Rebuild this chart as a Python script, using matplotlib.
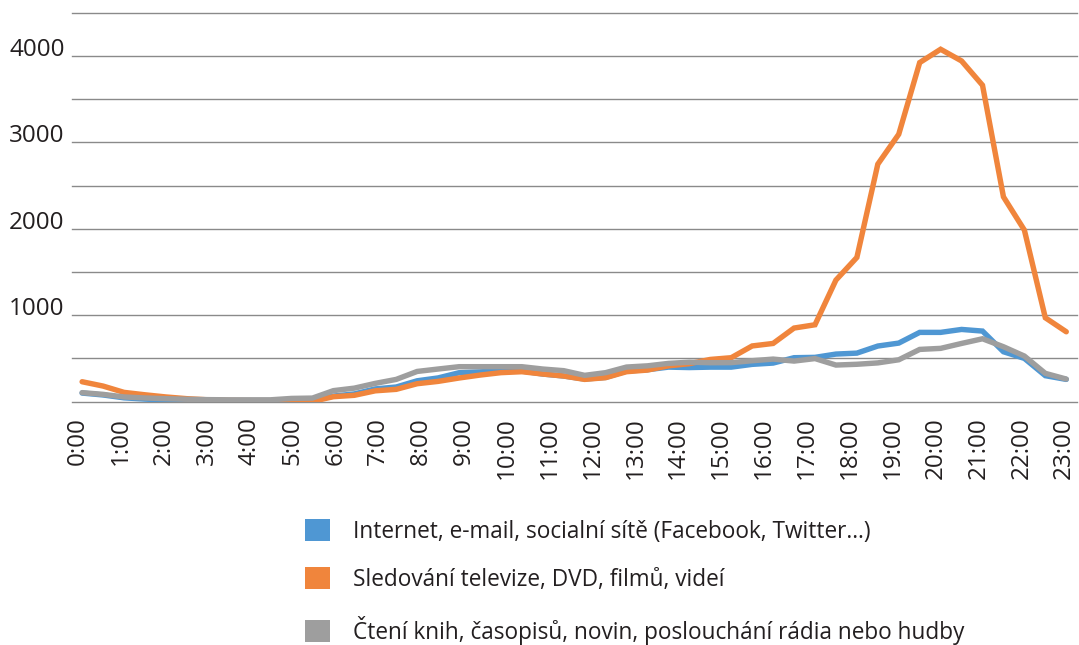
import numpy as np
import matplotlib.pyplot as plt
from matplotlib.patches import Patch

plt.rcParams['font.family'] = ['Open Sans', 'DejaVu Sans']
plt.rcParams['font.size'] = 17.4
TXT = '#231f20'

# pulhodinove intervaly 0:00 .. 23:30
times = [f"{h}:{m:02d}" for h in range(24) for m in (0, 30)]
hour_labels = [f"{h}:00" for h in range(24)]

internet = [100, 78, 45, 30, 20, 12, 8, 5, 5, 5, 10, 18,
            65, 90, 148, 170, 242, 275, 335, 345, 359, 355, 320, 297,
            262, 281, 355, 370, 400, 395, 400, 400, 432, 447, 509, 513,
            551, 562, 644, 678, 802, 802, 836, 817, 578, 501, 301, 258]
tv = [231, 181, 108, 80, 55, 35, 22, 15, 12, 10, 10, 3,
      58, 74, 126, 143, 208, 235, 274, 308, 336, 347, 320, 297,
      258, 278, 347, 366, 415, 440, 489, 509, 645, 674, 852, 890,
      1407, 1669, 2748, 3094, 3923, 4077, 3942, 3661, 2370, 1985, 971, 809]
reading = [105, 85, 55, 43, 35, 28, 24, 22, 22, 22, 38, 42,
           128, 157, 212, 258, 350, 378, 405, 405, 405, 405, 378, 359,
           305, 336, 401, 415, 443, 457, 451, 452, 474, 493, 470, 499,
           424, 433, 449, 485, 605, 617, 674, 728, 636, 528, 328, 262]

names = ["Internet, e-mail, socialní sítě (Facebook, Twitter…)",
         "Sledování televize, DVD, filmů, videí",
         "Čtení knih, časopisů, novin, poslouchání rádia nebo hudby"]
colors = ['#4f97d3', '#f0853c', '#9e9e9e']

fig = plt.figure(figsize=(10.79, 6.45), dpi=100)
ax = fig.add_axes([0.0664, 0.3772, 0.9315, 0.6031])

x = np.arange(len(times))
for vals, c in zip([internet, tv, reading], colors):
    ax.plot(x, vals, color=c, lw=3.9, solid_capstyle='round',
            solid_joinstyle='miter')

ax.set_xlim(-0.5, len(times) - 0.5)
ax.set_ylim(0, 4500)

ax.set_yticks(np.arange(0, 4501, 500))
ax.set_yticklabels([str(v) if v % 1000 == 0 and v > 0 else ''
                    for v in range(0, 4501, 500)])
for lab in ax.get_yticklabels():
    lab.set_va('baseline')
ax.grid(axis='y', color='#8a8a8a', lw=1.0)
for gl in ax.get_ygridlines():
    gl.set_clip_on(False)
ax.set_axisbelow(True)

ax.set_xticks(np.linspace(-0.2, 46.9, len(hour_labels)))
ax.set_xticklabels(hour_labels, rotation=90, va='top', ha='center')
ax.tick_params(axis='x', length=0, pad=11, colors=TXT)
ax.tick_params(axis='y', length=0, pad=5, colors=TXT)
for s in ax.spines.values():
    s.set_visible(False)

handles = [Patch(facecolor=c, edgecolor='none') for c in colors]
fig.legend(handles, names, loc='upper left',
           bbox_to_anchor=(305 / 1079, 1 - 519 / 645),
           frameon=False, borderpad=0, borderaxespad=0, fontsize=16.3,
           handlelength=1.1, handleheight=1.1, handletextpad=1.0,
           labelspacing=1.05, labelcolor=TXT)

fig.savefig('out.png', dpi=100)
